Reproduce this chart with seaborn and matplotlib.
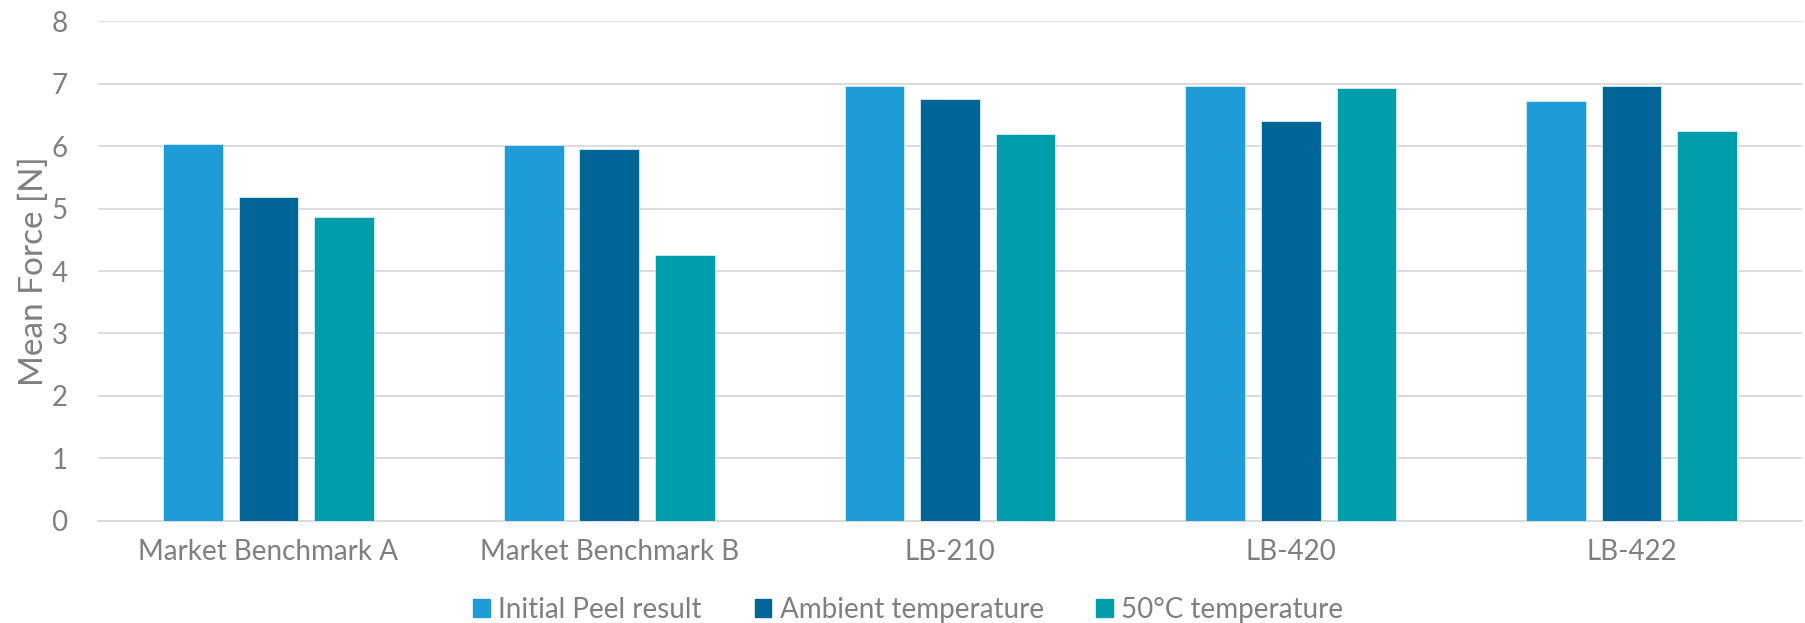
import numpy as np
import pandas as pd
import matplotlib
matplotlib.use("Agg")
import matplotlib.pyplot as plt
import seaborn as sns

# Mean peel force per adhesive and conditioning
products = ["Market Benchmark A", "Market Benchmark B", "LB-210", "LB-420", "LB-422"]
conditions = ["Initial Peel result", "Ambient temperature", "50°C temperature"]
initial_peel = [6.04, 6.02, 6.97, 6.96, 6.73]
ambient_temp = [5.19, 5.95, 6.76, 6.41, 6.96]
hot_50c = [4.87, 4.25, 6.20, 6.93, 6.24]
y_ticks = [0, 1, 2, 3, 4, 5, 6, 7, 8]

colors = ["#1F9CD8", "#006597", "#009EAA"]
text_gray = "#7F7F7F"
grid_gray = "#D9D9D9"

df = pd.DataFrame({
    "Product": products * 3,
    "Condition": np.repeat(conditions, len(products)),
    "Force": initial_peel + ambient_temp + hot_50c,
})

sns.set_theme(style="white")
plt.rcParams["font.family"] = ["Lato", "DejaVu Sans"]

fig = plt.figure(figsize=(18.06, 6.23), dpi=100)
ax = fig.add_axes([0.0543, 0.1642, 0.9435, 0.8016])

sns.barplot(
    data=df, x="Product", y="Force", hue="Condition",
    order=products, hue_order=conditions, palette=colors,
    width=0.665, gap=0.21, saturation=1, ax=ax, legend=False,
    edgecolor="#D6ECF5", linewidth=0.6, zorder=3,
)

ax.set_ylim(0, 8)
ax.set_xlim(-0.5, len(products) - 0.5)
ax.set_yticks(y_ticks)
ax.yaxis.grid(True, color=grid_gray, linewidth=1.3, zorder=0)
ax.set_axisbelow(True)
for s in ["top", "right", "left"]:
    ax.spines[s].set_visible(False)
ax.spines["bottom"].set_color(grid_gray)
ax.spines["bottom"].set_linewidth(1.3)
ax.tick_params(axis="both", length=0, labelsize=20, colors=text_gray)
ax.tick_params(axis="y", pad=22)
ax.tick_params(axis="x", pad=13)
ax.set_xlabel("")
ax.set_ylabel("Mean Force [N]", fontsize=24, color=text_gray, labelpad=2)

handles = [plt.Rectangle((0, 0), 1, 1, color=c) for c in colors]
fig.legend(
    handles, conditions, loc="center", bbox_to_anchor=(0.503, 0.021),
    ncol=3, frameon=False, fontsize=20, labelcolor=text_gray,
    handlelength=0.6, handleheight=0.6, handletextpad=0.3, columnspacing=1.9,
)

fig.savefig("out.png", dpi=100)
